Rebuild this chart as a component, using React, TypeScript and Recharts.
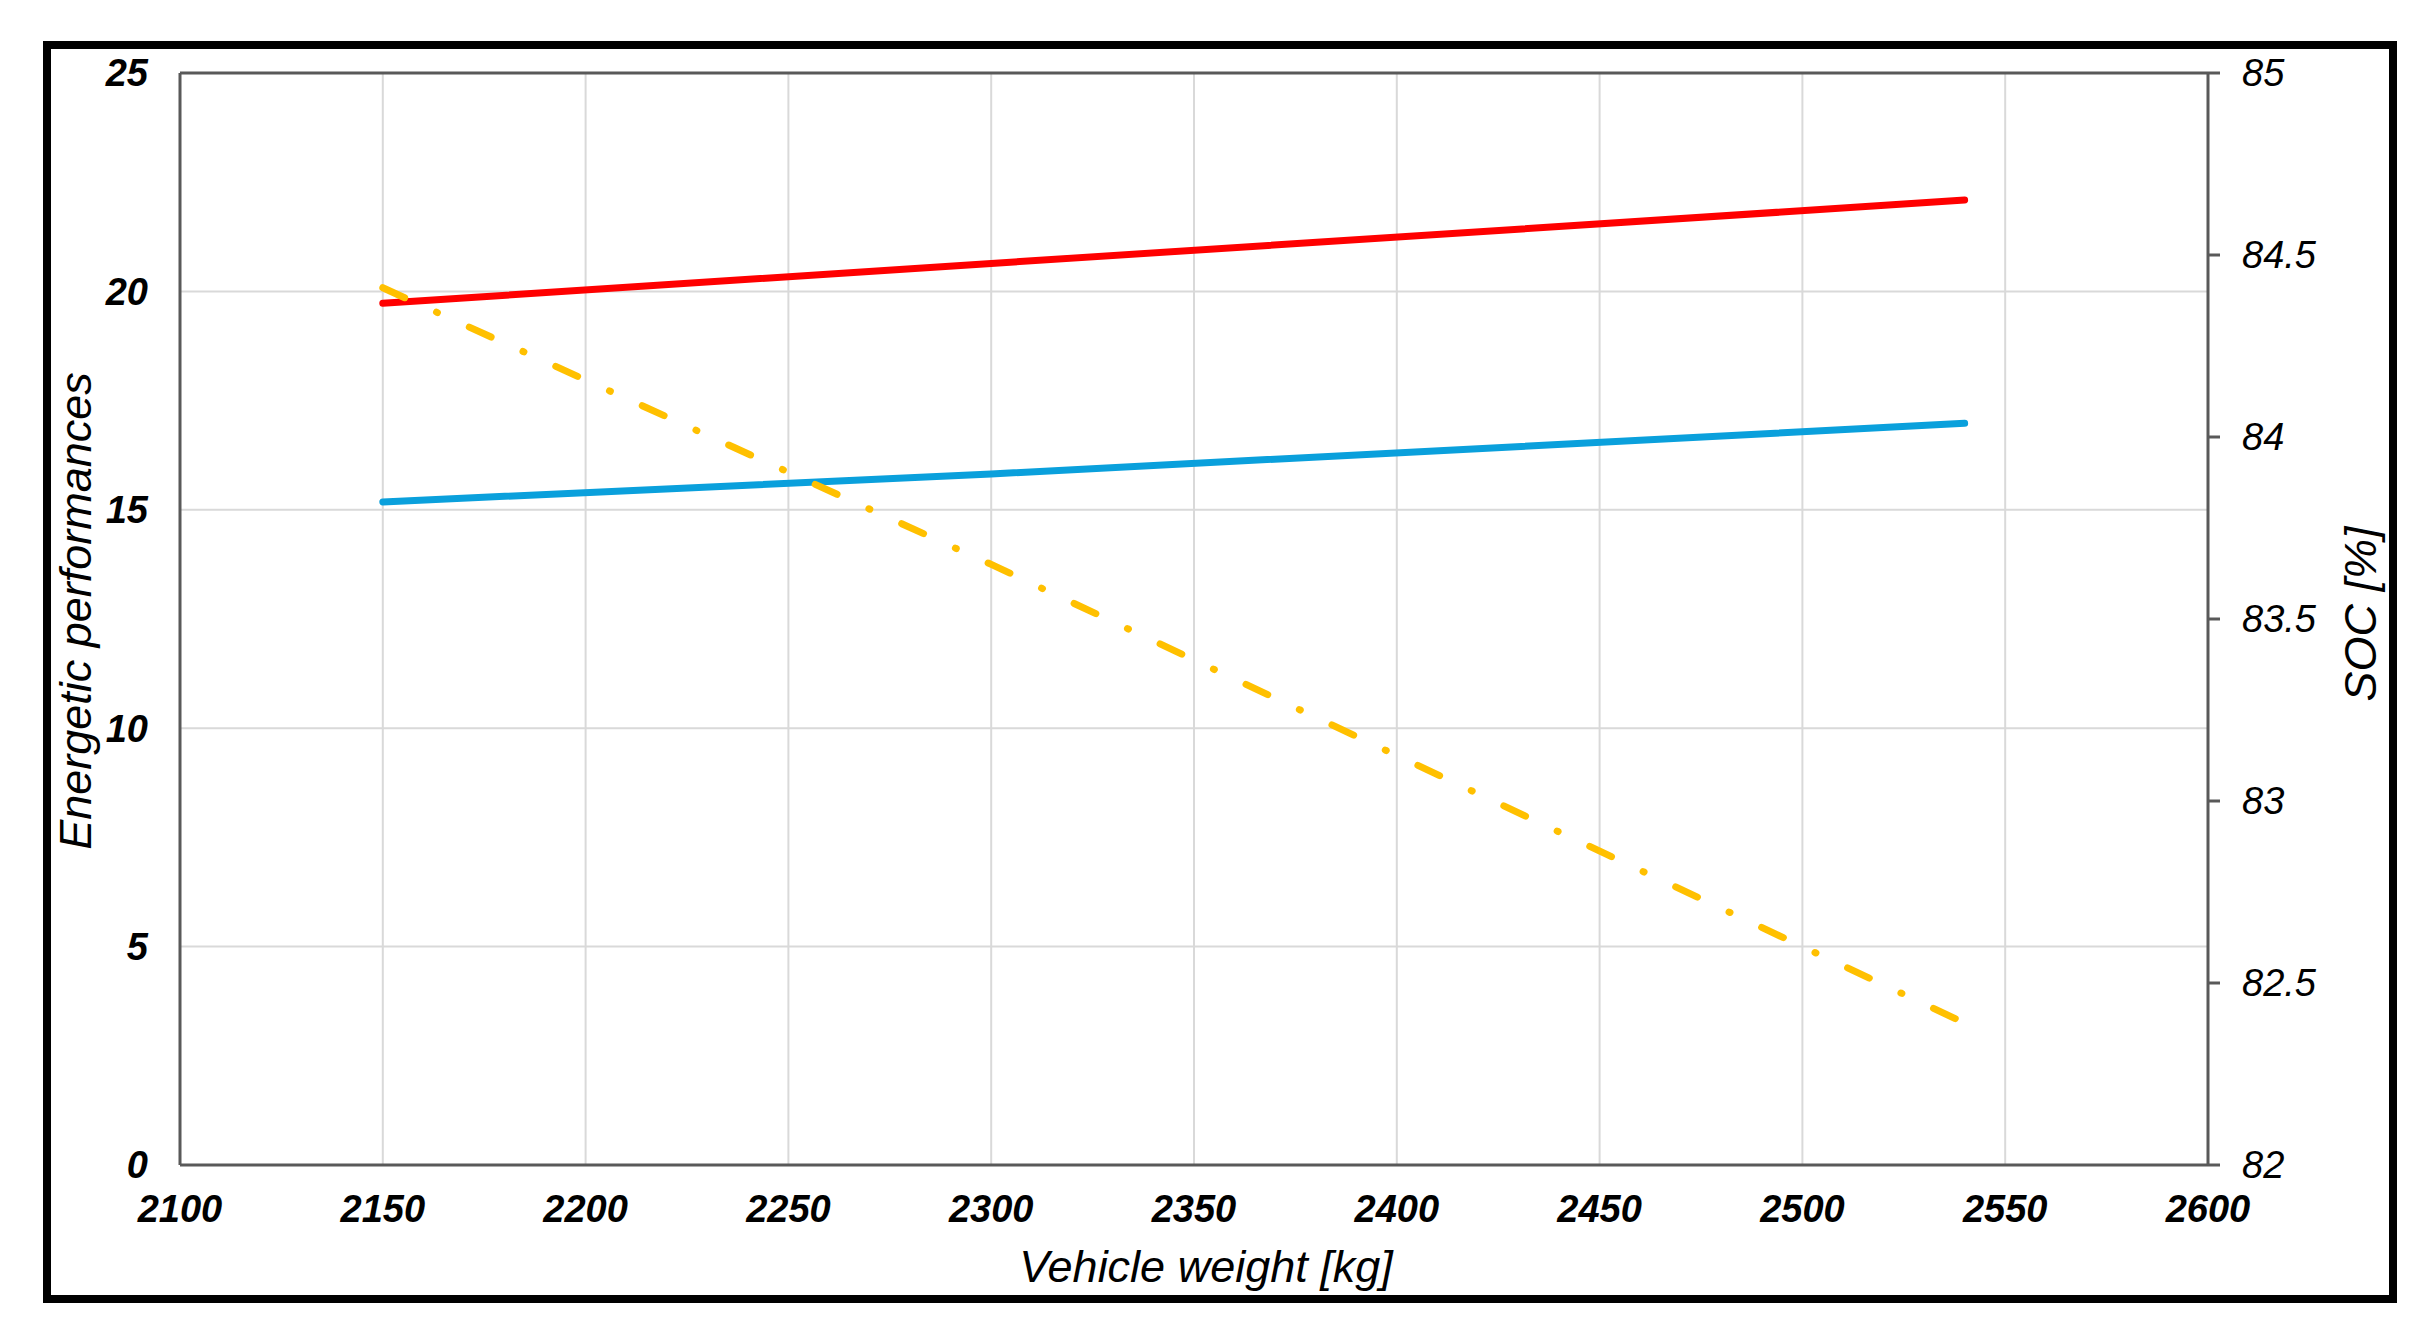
import { LineChart, Line, XAxis, YAxis, CartesianGrid, ReferenceLine } from "recharts";

// values
const weights = [2150, 2300, 2540];
const redValues = [19.73, 20.64, 22.09];
const blueValues = [15.18, 15.82, 16.98];
const socValues = [84.41, 83.65, 82.39];

const xTicks = [2100, 2150, 2200, 2250, 2300, 2350, 2400, 2450, 2500, 2550, 2600];
const leftTicks = [0, 5, 10, 15, 20, 25];
const rightTicks = [82, 82.5, 83, 83.5, 84, 84.5, 85];

const data = weights.map((w, i) => ({
  weight: w,
  red: redValues[i],
  blue: blueValues[i],
  soc: socValues[i],
}));

const FONT = "'Liberation Sans', Arial, sans-serif";
const AXIS = "#595959";

const titleStyle: React.CSSProperties = {
  position: "absolute",
  fontFamily: FONT,
  fontStyle: "italic",
  fontSize: 45,
  lineHeight: 1,
  whiteSpace: "nowrap",
  color: "#000",
};

export default function App() {
  return (
    <div style={{ position: "absolute", left: 0, top: 0, width: 2436, height: 1339, background: "#fff" }}>
      <div
        style={{
          position: "absolute",
          left: 43,
          top: 41,
          width: 2354,
          height: 1262,
          border: "8px solid #000",
          boxSizing: "border-box",
        }}
      />
      <div style={{ position: "absolute", left: 0, top: 0 }}>
        <LineChart
          width={2436}
          height={1339}
          data={data}
          margin={{ top: 73, right: 128, left: 80, bottom: 114 }}
        >
          <CartesianGrid yAxisId="left" stroke="#d9d9d9" strokeWidth={2} />
          <XAxis
            dataKey="weight"
            type="number"
            domain={[2100, 2600]}
            ticks={xTicks}
            height={60}
            tickLine={false}
            tickSize={0}
            tickMargin={30}
            axisLine={{ stroke: AXIS, strokeWidth: 3 }}
            tick={{ fill: "#000", fontSize: 38, fontWeight: 700, fontStyle: "italic", fontFamily: FONT }}
          />
          <YAxis
            yAxisId="left"
            domain={[0, 25]}
            ticks={leftTicks}
            width={100}
            tickLine={false}
            tickSize={0}
            tickMargin={32}
            axisLine={{ stroke: AXIS, strokeWidth: 3 }}
            tick={{ fill: "#000", fontSize: 38, fontWeight: 700, fontStyle: "italic", fontFamily: FONT }}
          />
          <YAxis
            yAxisId="right"
            orientation="right"
            domain={[82, 85]}
            ticks={rightTicks}
            width={100}
            tickSize={12}
            tickMargin={22}
            tickLine={{ stroke: AXIS, strokeWidth: 3 }}
            axisLine={{ stroke: AXIS, strokeWidth: 3 }}
            tick={{ fill: "#000", fontSize: 38, fontStyle: "italic", fontFamily: FONT }}
          />
          <ReferenceLine yAxisId="left" y={25} stroke={AXIS} strokeWidth={3} />
          <Line
            yAxisId="left"
            type="linear"
            dataKey="red"
            stroke="#ff0000"
            strokeWidth={7}
            strokeLinecap="round"
            dot={false}
            isAnimationActive={false}
          />
          <Line
            yAxisId="left"
            type="linear"
            dataKey="blue"
            stroke="#0aa0dc"
            strokeWidth={7}
            strokeLinecap="round"
            dot={false}
            isAnimationActive={false}
          />
          <Line
            yAxisId="right"
            type="linear"
            dataKey="soc"
            stroke="#ffc000"
            strokeWidth={7}
            strokeLinecap="round"
            strokeDasharray="24 35 1 35"
            dot={false}
            isAnimationActive={false}
          />
        </LineChart>
      </div>
      <div style={{ ...titleStyle, left: 1206, top: 1266, transform: "translate(-50%, -50%)" }}>
        Vehicle weight [kg]
      </div>
      <div style={{ ...titleStyle, left: 75, top: 611, transform: "translate(-50%, -50%) rotate(-90deg)" }}>
        Energetic performances
      </div>
      <div style={{ ...titleStyle, left: 2360, top: 614, transform: "translate(-50%, -50%) rotate(-90deg)" }}>
        SOC [%]
      </div>
    </div>
  );
}
